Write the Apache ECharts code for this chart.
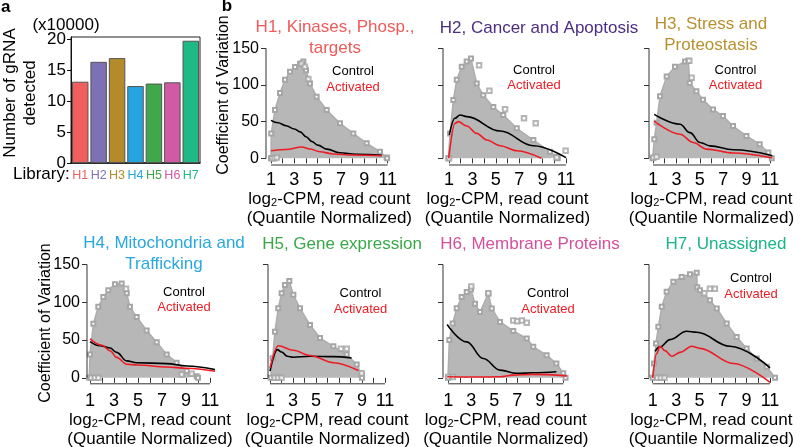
<!DOCTYPE html>
<html><head><meta charset="utf-8">
<script src="https://cdn.jsdelivr.net/npm/echarts@6/dist/echarts.min.js"></script>
<style>html,body{margin:0;padding:0;background:#fff}#c{width:800px;height:447px}</style>
</head><body><div id="c"></div>
<script>
// ---------- DATA ----------
const libraries = ['H1','H2','H3','H4','H5','H6','H7'];
const gRNADetected = [13.1, 16.3, 16.9, 12.4, 12.8, 13.0, 19.7]; // x10000
const barTicks = [0, 5, 10, 15, 20];
const xTicks = [1,2,3,4,5,6,7,8,9,10,11];
const xTickLabels = [1,3,5,7,9,11];
const yTicks = [0,50,100,150];

const panelTitleLines = [
  ['H1, Kinases, Phosp.,', 'targets'],
  ['H2, Cancer and Apoptosis'],
  ['H3, Stress and', 'Proteostasis'],
  ['H4, Mitochondria and', 'Trafficking'],
  ['H5, Gene expression'],
  ['H6, Membrane Proteins'],
  ['H7, Unassigned']
];

// upper envelopes of the grey point clouds [log2-CPM, CV]
const h1Cloud = [[1.0,0],[1.02,34],[1.34,66],[1.77,89],[2.2,107],[2.63,118],[3.06,124.5],[3.49,129],[3.77,132],[4.0,120],[4.34,102],[4.91,84],[5.77,66],[6.91,47.7],[8.05,34],[9.2,20.5],[10.34,9],[10.91,1],[10.95,0]];
const h2Cloud = [[0.95,0],[1.09,34],[1.37,79.5],[1.66,107],[2.09,125],[2.51,132],[2.88,136],[3.37,102],[3.93,86],[4.79,70],[5.64,59],[6.79,41],[8.21,25],[9.63,9],[10.2,2],[10.3,0]];
const h3Cloud = [[0.97,0],[1.11,26],[1.31,48.6],[1.6,84.6],[2.17,111.6],[2.88,125],[3.74,132],[4.02,133],[4.14,102.7],[4.71,91.4],[5.27,80],[6.13,66.6],[6.98,57.6],[7.84,44],[8.98,30.5],[10.12,19.3],[10.86,8],[11.15,0]];
const h4Cloud = [[0.94,0],[1,31],[1.28,71.6],[1.69,94],[2.11,107],[2.53,116],[3.08,124],[3.64,125],[4.06,112],[4.33,94],[4.89,80.5],[5.72,62.6],[6.56,47],[7.39,31],[8.22,20],[9.06,9],[9.89,2],[10,0]];
const h5Cloud = [[1.06,0],[1.23,26],[1.43,61],[1.72,92],[2.01,112],[2.3,123],[2.68,128],[3.03,110],[3.61,92],[4.48,70],[5.35,52.6],[6.51,41.7],[7.67,30.7],[8.54,17.5],[8.97,4],[9.0,0]];
const h6Cloud = [[0.97,0],[1.09,50],[1.38,72],[1.73,92],[2.16,107],[2.6,113.5],[2.97,117],[3.32,98],[3.76,87],[4.48,111.6],[4.78,91.8],[5.5,74],[6.65,62],[7.82,52],[8.39,41],[9.55,30],[10.4,19],[11.0,6],[11.2,0]];
const h7Cloud = [[1,0],[1.11,19],[1.28,45.5],[1.48,67.5],[1.77,94],[2.19,114],[2.76,127],[3.47,133.6],[4.18,137],[4.75,139],[4.8,120],[5.03,116],[5.88,102.8],[6.46,91.8],[7.31,72],[8.16,54],[9.01,38.9],[9.87,25.6],[10.72,14.6],[11.43,0]];

// isolated outlying points
const h1Out = [[3.63,129],[3.9,125],[4.2,108],[1.1,0],[1.3,0],[1.5,1]];
const h2Out = [[3.57,127],[4.45,92],[5.79,67],[7.41,54.5],[8.41,47.7],[10.97,10.4],[10.2,1],[1.0,0]];
const h3Out = [[4.1,133],[4.3,110],[1.05,1],[1.3,2]];
const h4Out = [[8.64,4.5],[9.47,5.3],[4.0,118],[1.1,0],[1.4,0],[1.7,0]];
const h5Out = [[7.17,38.6],[7.67,38.6],[8.97,6],[1.4,0],[1.7,0],[2.0,0]];
const h6Out = [[6.65,76],[7.0,75],[7.4,76],[7.82,73],[3.0,121],[4.48,112],[1.0,1],[1.4,1]];
const h7Out = [[5.88,118],[6.3,118],[5.4,112],[1.4,0],[1.7,0],[2.0,0]];

// loess trend lines
const h1Control = [[1,51.8],[1.6,48.5],[2.3,44.5],[3.0,40],[3.5,36],[4.0,29.5],[4.5,23],[5.0,18],[5.8,12.5],[6.9,7.7],[8.3,5.5],[10.5,4]];
const h1Activated = [[1,10.4],[2.3,12],[3.63,15.4],[4.34,12.7],[5.2,9],[6.34,5.9],[8,4.5],[10.5,3.6]];
const h2Control = [[1.03,31.8],[1.51,54.6],[1.94,59],[2.52,56.8],[5.37,37.2],[8.22,17.2],[11.0,0.9]];
const h2Activated = [[0.98,0],[1.51,47.7],[1.8,50],[2.52,44],[3.37,34],[4.23,25],[5.37,17.2],[6.8,10.4],[8.9,0]];
const h3Control = [[1.11,59.9],[3.31,46.4],[4.16,35],[5.02,21.6],[5.87,17],[7.86,11.7],[11.2,3.6]];
const h3Activated = [[1.11,50.8],[3.31,32.8],[4.44,21.6],[5.58,12.6],[7.86,7.2],[11.2,0.4]];
const h4Control = [[1,48],[1.83,42.6],[2.67,39.4],[3.22,33.6],[4.06,22.4],[4.89,20],[7.39,18.8],[9.06,15.7],[11.7,9.9]];
const h4Activated = [[1,51.5],[2.0,43],[2.67,35.8],[3.22,27],[4.06,18],[5,17],[7.39,14.4],[9.06,12.6],[11.7,8]];
const h5Control = [[1,8.8],[1.64,37.3],[2.0,34.2],[2.51,28.5],[3.03,27.2],[4.48,28.5],[6.5,28],[8.1,26.3]];
const h5Activated = [[1,13],[1.72,42.5],[3.03,36.4],[4.48,29.6],[6.51,20],[8.68,9.7]];
const h6Control = [[0.9,70.6],[2.6,47.6],[4.04,25.6],[5.5,10.2],[6.95,5.8],[8.4,6.6],[10.4,8]];
const h6Activated = [[0.9,1.3],[3,1],[5.5,1.3],[6.6,3.5],[8.4,4.5],[11.3,2.6]];
const h7Control = [[1.2,35],[1.62,41],[2.48,50.6],[3.9,61.6],[4.75,60.3],[7.59,41.8],[11,13.2]];
const h7Activated = [[1,0],[1.34,32],[1.62,41.8],[2.05,36],[2.62,28.6],[3.4,34],[4.32,41.8],[5.03,39],[7.87,19],[11,-6]];

// ---------- STYLE / LAYOUT ----------
const FONT = '"Liberation Sans", Arial, sans-serif';
const libColors = ['#f05f5d','#7d70b5','#b58a2a','#25a4df','#40a84a','#d05aa4','#1eb985'];
const titleColors = ['#ef5a5a','#4b2e83','#b8912f','#29a8e0','#3aa848','#d5509b','#19b488'];

const TOP = {top:48.3, height:116.7, ymin:-9.1, nameGap:22, labelMargin:6};
const BOT = {top:264.5, height:119.3, ymin:-7.94, nameGap:25, labelMargin:8};
const panels = [
  {row:TOP, left:266, width:126.7, xmin:0.571, xmax:11.429, ylab:true,  cloud:h1Cloud, out:h1Out, ctl:h1Control, act:h1Activated,
   tx:335, ty:[27,48], lx:353, ly:[71,87], yt:[224,95]},
  {row:TOP, left:443, width:129, xmin:0.487, xmax:11.513, ylab:false, cloud:h2Cloud, out:h2Out, ctl:h2Control, act:h2Activated,
   tx:539, ty:[28], lx:534, ly:[70,85.5]},
  {row:TOP, left:649, width:125, xmin:0.658, xmax:11.342, ylab:false, cloud:h3Cloud, out:h3Out, ctl:h3Control, act:h3Activated,
   tx:711, ty:[24,45], lx:735.5, ly:[70,85.5]},
  {row:BOT, left:87, width:126, xmin:0.75, xmax:11.25, ylab:true,  cloud:h4Cloud, out:h4Out, ctl:h4Control, act:h4Activated,
   tx:164, ty:[243.5,264], lx:184, ly:[292,307], yt:[46,323]},
  {row:BOT, left:268, width:119, xmin:0.826, xmax:11.174, ylab:false, cloud:h5Cloud, out:h5Out, ctl:h5Control, act:h5Activated,
   tx:342, ty:[244], lx:360.5, ly:[293.5,309.5]},
  {row:BOT, left:443, width:125.6, xmin:0.539, xmax:11.461, ylab:false, cloud:h6Cloud, out:h6Out, ctl:h6Control, act:h6Activated,
   tx:530, ty:[244], lx:548, ly:[293.5,309.5]},
  {row:BOT, left:649, width:124.7, xmin:0.685, xmax:11.315, ylab:false, cloud:h7Cloud, out:h7Out, ctl:h7Control, act:h7Activated,
   tx:726, ty:[244], lx:751, ly:[278.5,294]}
];

const grids = [{left:71, top:37, width:129, height:126, show:true, borderColor:'#222', borderWidth:1, outerBoundsMode:'none'}];
const xAxes = [{
  type:'category', gridIndex:0, data:libraries,
  axisLine:{show:true, lineStyle:{color:'#111', width:1.5}}, axisTick:{show:false},
  axisLabel:{margin:6, interval:0, fontFamily:FONT, fontSize:12.5,
    formatter: v => '{' + v + '|' + v + '}',
    rich: Object.fromEntries(libraries.map((l,i)=>[l,{color:libColors[i], fontSize:12.5, fontFamily:FONT}]))}
}];
const yAxes = [{
  type:'value', gridIndex:0, min:0, max:20.3,
  axisLine:{show:true, lineStyle:{color:'#111'}}, splitLine:{show:false},
  axisTick:{show:true, length:4, customValues:barTicks, lineStyle:{color:'#111'}},
  axisLabel:{customValues:barTicks, fontSize:17, color:'#000', fontFamily:FONT, margin:5}
}];
const series = [{
  type:'bar', xAxisIndex:0, yAxisIndex:0, data:gRNADetected.map((v,i)=>({value:v, itemStyle:{color:libColors[i]}})),
  barWidth:16.5, itemStyle:{borderColor:'#555', borderWidth:1}, silent:true
}];

panels.forEach((p, k) => {
  const gi = k + 1;
  grids.push({left:p.left, top:p.row.top, width:p.width, height:p.row.height, outerBoundsMode:'none'});
  xAxes.push({
    type:'value', gridIndex:gi, min:p.xmin, max:p.xmax,
    axisLine:{show:false}, splitLine:{show:false},
    axisTick:{show:true, length:5, customValues:xTicks, lineStyle:{color:'#333'}},
    axisLabel:{customValues:xTickLabels, fontSize:18, color:'#000', fontFamily:FONT, margin:p.row.labelMargin},
    name:'log{s|2}-CPM, read count\n(Quantile Normalized)', nameLocation:'middle', nameGap:p.row.nameGap,
    nameTextStyle:{color:'#000', fontSize:17, fontFamily:FONT, lineHeight:19,
      rich:{s:{fontSize:11, fontFamily:FONT, color:'#000', lineHeight:11, verticalAlign:'bottom'}}}
  });
  yAxes.push({
    type:'value', gridIndex:gi, min:p.row.ymin, max:150,
    axisLine:{show:false}, splitLine:{show:false},
    axisTick:{show:true, length:5, customValues:yTicks, lineStyle:{color:'#333'}},
    axisLabel:{show:p.ylab, customValues:yTicks, fontSize:16, color:'#000', fontFamily:FONT, margin:7}
  });
  series.push({
    type:'line', xAxisIndex:gi, yAxisIndex:gi, data:p.cloud, clip:false, silent:true, z:1,
    symbol:'emptyRect', symbolSize:4, showSymbol:true, itemStyle:{color:'#a6a6a6'},
    lineStyle:{color:'#adadad', width:1.5}, areaStyle:{color:'#b7b7b7', opacity:1}
  });
  series.push({
    type:'scatter', xAxisIndex:gi, yAxisIndex:gi, data:p.out, clip:false, silent:true, z:1,
    symbol:'emptyRect', symbolSize:4.5, itemStyle:{color:'#a3a3a3'}
  });
  series.push({
    type:'line', xAxisIndex:gi, yAxisIndex:gi, data:p.ctl, clip:false, silent:true, z:3,
    smooth:0.4, smoothMonotone:'x', symbol:'none', lineStyle:{color:'#000', width:1.6}
  });
  series.push({
    type:'line', xAxisIndex:gi, yAxisIndex:gi, data:p.act, clip:false, silent:true, z:4,
    smooth:0.35, smoothMonotone:'x', symbol:'none', lineStyle:{color:'#ed1c24', width:1.6}
  });
  series.push({
    type:'custom', xAxisIndex:gi, yAxisIndex:gi, data:[[1,0]], silent:true, z:5,
    renderItem:(params, api) => {
      const a = api.coord([p.xmin, 0]), b = api.coord([p.xmin, 150]);
      const c = api.coord([1, p.row.ymin]), d = api.coord([11, p.row.ymin]);
      return {type:'group', children:[
        {type:'line', shape:{x1:a[0],y1:a[1],x2:b[0],y2:b[1]}, style:{stroke:'#333', lineWidth:1}},
        {type:'line', shape:{x1:c[0],y1:c[1],x2:d[0],y2:d[1]}, style:{stroke:'#333', lineWidth:1}}
      ]};
    }
  });
});

function txt(s, x, y, opts) {
  opts = opts || {};
  return {type:'text', x:x, y:y, rotation:opts.rot || 0, silent:true, z:10,
    style:{text:s, fill:opts.color || '#000', font:(opts.weight||'normal') + ' ' + (opts.size||17) + 'px ' + FONT,
      align:opts.align || 'center', verticalAlign:'middle'}};
}
const graphics = [
  txt('a', 1, 7, {weight:'bold', size:17, align:'left'}),
  txt('b', 227, 6, {weight:'bold', size:17}),
  txt('(x10000)', 66, 25, {size:17}),
  txt('Number of gRNA', 10, 93, {size:17, rot:Math.PI/2}),
  txt('detected', 30, 93, {size:17, rot:Math.PI/2}),
  txt('Library:', 13, 174, {size:17, align:'left'})
];
panels.forEach((p, k) => {
  panelTitleLines[k].forEach((line, j) => graphics.push(txt(line, p.tx, p.ty[j], {size:17, color:titleColors[k]})));
  graphics.push(txt('Control', p.lx, p.ly[0], {size:13}));
  graphics.push(txt('Activated', p.lx, p.ly[1], {size:13, color:'#ed1c24'}));
  if (p.yt) graphics.push(txt('Coefficient of Variation', p.yt[0], p.yt[1], {size:16, rot:Math.PI/2}));
});

const chart = echarts.init(document.getElementById('c'), null, {renderer:'canvas'});
chart.setOption({
  animation:false, backgroundColor:'#fff',
  grid:grids, xAxis:xAxes, yAxis:yAxes, series:series, graphic:graphics
});
</script></body></html>
